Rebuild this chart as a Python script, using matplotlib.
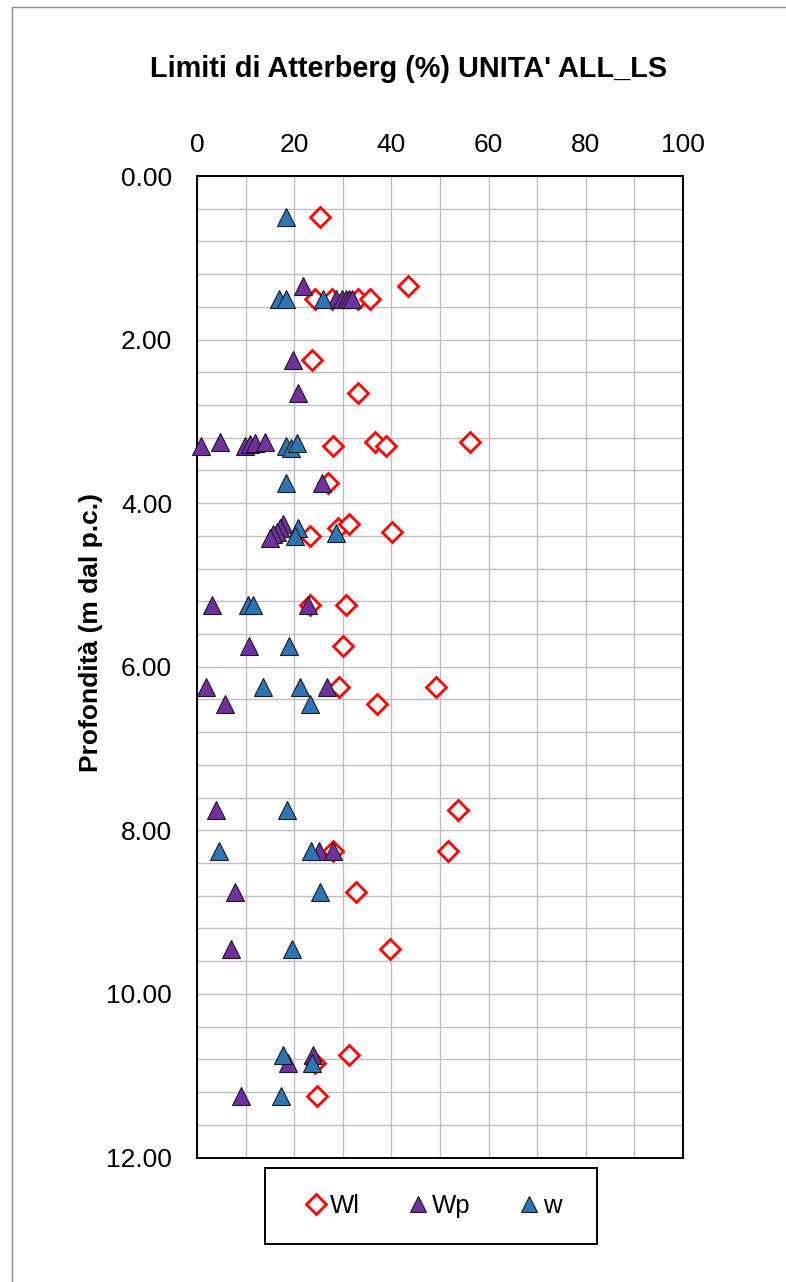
import matplotlib
matplotlib.use("Agg")
import matplotlib.pyplot as plt
from matplotlib.patches import Rectangle
from matplotlib.ticker import MultipleLocator, FormatStrFormatter

plt.rcParams["font.family"] = ["Liberation Sans", "DejaVu Sans"]

# ---- data: (value %, depth m) per series ----
wl_val = [25.3, 43.5, 24.3, 27.7, 33.2, 35.6, 23.6, 33.2,
          27.9, 36.7, 38.8, 56.2, 27.0, 23.2, 29.0, 31.3, 40.2,
          23.2, 30.6, 30.0, 29.2, 49.2, 37.0, 53.8, 27.9, 51.7,
          32.8, 39.8, 31.3, 24.3, 24.7]
wl_dep = [0.50, 1.35, 1.50, 1.50, 1.50, 1.50, 2.25, 2.65,
          3.30, 3.25, 3.30, 3.25, 3.75, 4.40, 4.30, 4.25, 4.35,
          5.25, 5.25, 5.75, 6.25, 6.25, 6.45, 7.75, 8.25, 8.25,
          8.75, 9.45, 10.75, 10.85, 11.25]

wp_val = [21.9, 28.7, 29.8, 30.6, 31.3, 31.8, 19.8, 20.8,
          0.9, 4.7, 9.9, 10.9, 11.9, 14.0, 25.8,
          17.7, 17.0, 16.4, 15.7, 15.0,
          3.0, 22.9, 10.7, 1.8, 26.8, 5.7, 4.0, 25.0, 27.9,
          7.9, 6.9, 23.9, 18.8, 9.0]
wp_dep = [1.35, 1.50, 1.50, 1.50, 1.50, 1.50, 2.25, 2.65,
          3.30, 3.25, 3.30, 3.28, 3.27, 3.25, 3.75,
          4.25, 4.30, 4.35, 4.38, 4.42,
          5.25, 5.25, 5.75, 6.25, 6.25, 6.45, 7.75, 8.25, 8.25,
          8.75, 9.45, 10.75, 10.85, 11.25]

w_val = [18.3, 16.9, 18.4, 26.0, 18.4, 19.3, 20.5, 18.3,
         20.8, 20.1, 28.7, 10.5, 11.6, 19.0, 13.6, 21.2, 23.2,
         18.6, 4.6, 23.4, 25.3, 19.6, 17.6, 23.6, 17.2]
w_dep = [0.50, 1.50, 1.50, 1.50, 3.30, 3.32, 3.26, 3.75,
         4.30, 4.40, 4.37, 5.25, 5.25, 5.75, 6.25, 6.25, 6.45,
         7.75, 8.25, 8.25, 8.75, 9.45, 10.75, 10.85, 11.25]

W, H = 786, 1282
fig = plt.figure(figsize=(W / 100, H / 100), dpi=100)

# outer chart-area border (only top/left visible in the crop)
fig.patches.append(Rectangle((12 / W, -0.05), 1.2, 1 - 7 / H + 0.05,
                             transform=fig.transFigure, fill=False,
                             edgecolor="#8c8c8c", lw=1.0))

ax = fig.add_axes([197 / W, 1 - 1157.5 / H, 486 / W, 981.5 / H])

ax.plot(wl_val, wl_dep, ls="none", marker="D", ms=10.3, mfc="white",
        mec="#ff0000", mew=2.0, label="Wl", zorder=5, clip_on=False)
ax.plot(wp_val, wp_dep, ls="none", marker="^", ms=12.8, mfc="#7030a0",
        mec="#1a1a1a", mew=0.8, label="Wp", zorder=6, clip_on=False)
ax.plot(w_val, w_dep, ls="none", marker="^", ms=12.8, mfc="#2e75b6",
        mec="#1a1a1a", mew=0.8, label="w", zorder=7, clip_on=False)

ax.set_xlim(0, 100)
ax.set_ylim(12, 0)
ax.xaxis.tick_top()
ax.xaxis.set_major_locator(MultipleLocator(20))
ax.xaxis.set_minor_locator(MultipleLocator(10))
ax.yaxis.set_major_locator(MultipleLocator(2))
ax.yaxis.set_minor_locator(MultipleLocator(0.4))
ax.yaxis.set_major_formatter(FormatStrFormatter("%.2f"))
ax.tick_params(which="both", length=0)
ax.tick_params(axis="x", labelsize=19, pad=13.5)
ax.tick_params(axis="y", labelsize=19, pad=18)
ax.grid(which="both", color="#bfbfbf", lw=1.0)
ax.set_axisbelow(True)
for s in ax.spines.values():
    s.set_linewidth(1.4)
    s.set_color("black")

ax.set_ylabel("Profondità (m dal p.c.)", fontsize=19, fontweight="bold")
ax.yaxis.set_label_coords(-0.193, 0.535)

fig.text(409 / W, 1 - 69 / H, "Limiti di Atterberg (%) UNITA' ALL_LS",
         ha="center", va="center", fontsize=20.8, fontweight="bold")

# legend box + entries
fig.patches.append(Rectangle((265 / W, 1 - 1244 / H), 332 / W, 76 / H,
                             transform=fig.transFigure, fill=False,
                             edgecolor="black", lw=1.4))
fig.legend(loc="center", bbox_to_anchor=(435 / W, 1 - 1206 / H), ncol=3,
           frameon=False, fontsize=18.5, handlelength=0.6, handletextpad=0.25,
           columnspacing=1.95, markerscale=0.95)

fig.savefig("out.png", dpi=100)
